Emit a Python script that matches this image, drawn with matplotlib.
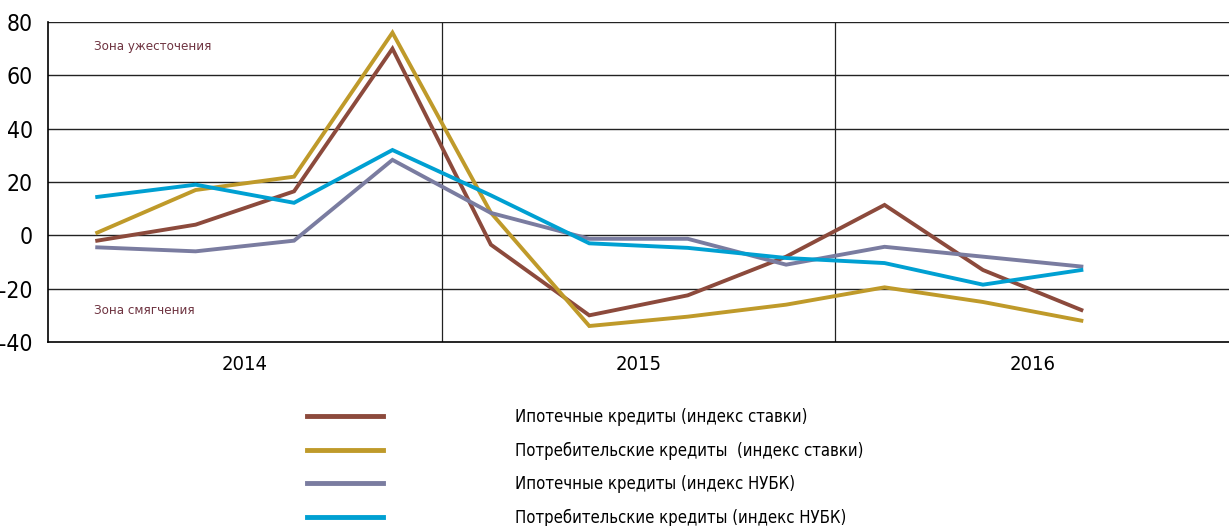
import matplotlib
matplotlib.use("Agg")
import matplotlib.pyplot as plt
from matplotlib import font_manager as fm

# pick a narrow/condensed face if one is installed
cand = None
for f in fm.fontManager.ttflist:
    n = f.name.lower()
    st = str(f.stretch).lower()
    if ("narrow" in n or "condensed" in n or "condensed" in st) and "bold" not in str(f.weight).lower() and f.style == "normal":
        cand = f
        break
if cand is not None:
    plt.rcParams['font.family'] = [cand.name, 'DejaVu Sans']
    plt.rcParams['font.stretch'] = cand.stretch
    scale = 1.0
else:
    plt.rcParams['font.family'] = ['DejaVu Sans']
    scale = 0.85

quarters = list(range(1, 12))
years = ["2014", "2015", "2016"]
series_labels = [
    "Ипотечные кредиты (индекс ставки)",
    "Потребительские кредиты  (индекс ставки)",
    "Ипотечные кредиты (индекс НУБК)",
    "Потребительские кредиты (индекс НУБК)",
]
mortgage_rate = [-2, 4, 16.5, 70, -3.5, -30, -22.5, -8, 11.4, -13, -28]
consumer_rate = [1, 17, 22, 76, 8.5, -34, -30.5, -26, -19.5, -25, -32]
mortgage_nubk = [-4.5, -6, -2, 28.3, 8.4, -1.3, -1.3, -11, -4.3, -8, -11.7]
consumer_nubk = [14.4, 19, 12.2, 32, 15, -3, -4.7, -8.5, -10.4, -18.5, -13]
colors = ["#8c4a3c", "#bf9a2a", "#7a7ca0", "#00a0d2"]

fig = plt.figure(figsize=(12.29, 5.26), dpi=100)
ax = fig.add_axes([48/1229, 1-342/526, 1-48/1229, 320/526])

ax.set_xlim(0.5, 12.5)
ax.set_ylim(-40, 80)
for yv in [-20, 0, 20, 40, 60, 80]:
    ax.axhline(yv, color="#222222", lw=1.0, zorder=1)
for xv in [4.5, 8.5]:
    ax.axvline(xv, color="#222222", lw=0.9, zorder=1)

data = [mortgage_rate, consumer_rate, mortgage_nubk, consumer_nubk]
for vals, c, lab in zip(data, colors, series_labels):
    ax.plot(quarters, vals, color=c, lw=2.8, label=lab, zorder=3, solid_joinstyle='miter')

ax.set_yticks([-40, -20, 0, 20, 40, 60, 80])
ax.set_yticklabels(["-40", "-20", "0", "20", "40", "60", "80"], fontsize=16.5*scale)
ax.set_xticks([2.5, 6.5, 10.5])
ax.set_xticklabels(years, fontsize=14.5*scale)
ax.tick_params(length=0, pad=9)
ax.tick_params(axis='y', pad=11 if cand is not None else 4)
for s in ["top", "right"]:
    ax.spines[s].set_visible(False)
for s in ["left", "bottom"]:
    ax.spines[s].set_color("black")
    ax.spines[s].set_linewidth(1.2)

ax.text(0.97, 71, "Зона ужесточения", color="#6e3340", fontsize=9.5*scale, va="center")
ax.text(0.97, -28, "Зона смягчения", color="#6e3340", fontsize=9.5*scale, va="center")

handles, labels = ax.get_legend_handles_labels()
fs = 12*scale
px = fs*100/72
leg = fig.legend(handles, labels, loc="upper left", bbox_to_anchor=(307/1229, 1-408/526),
                 frameon=False, fontsize=fs, handlelength=76/px, handletextpad=132/px,
                 labelspacing=(34 - 1.2*px)/px + 0.09, borderpad=0, borderaxespad=0)
for line in leg.get_lines():
    line.set_linewidth(3.5)

fig.savefig("out.png", dpi=100)
